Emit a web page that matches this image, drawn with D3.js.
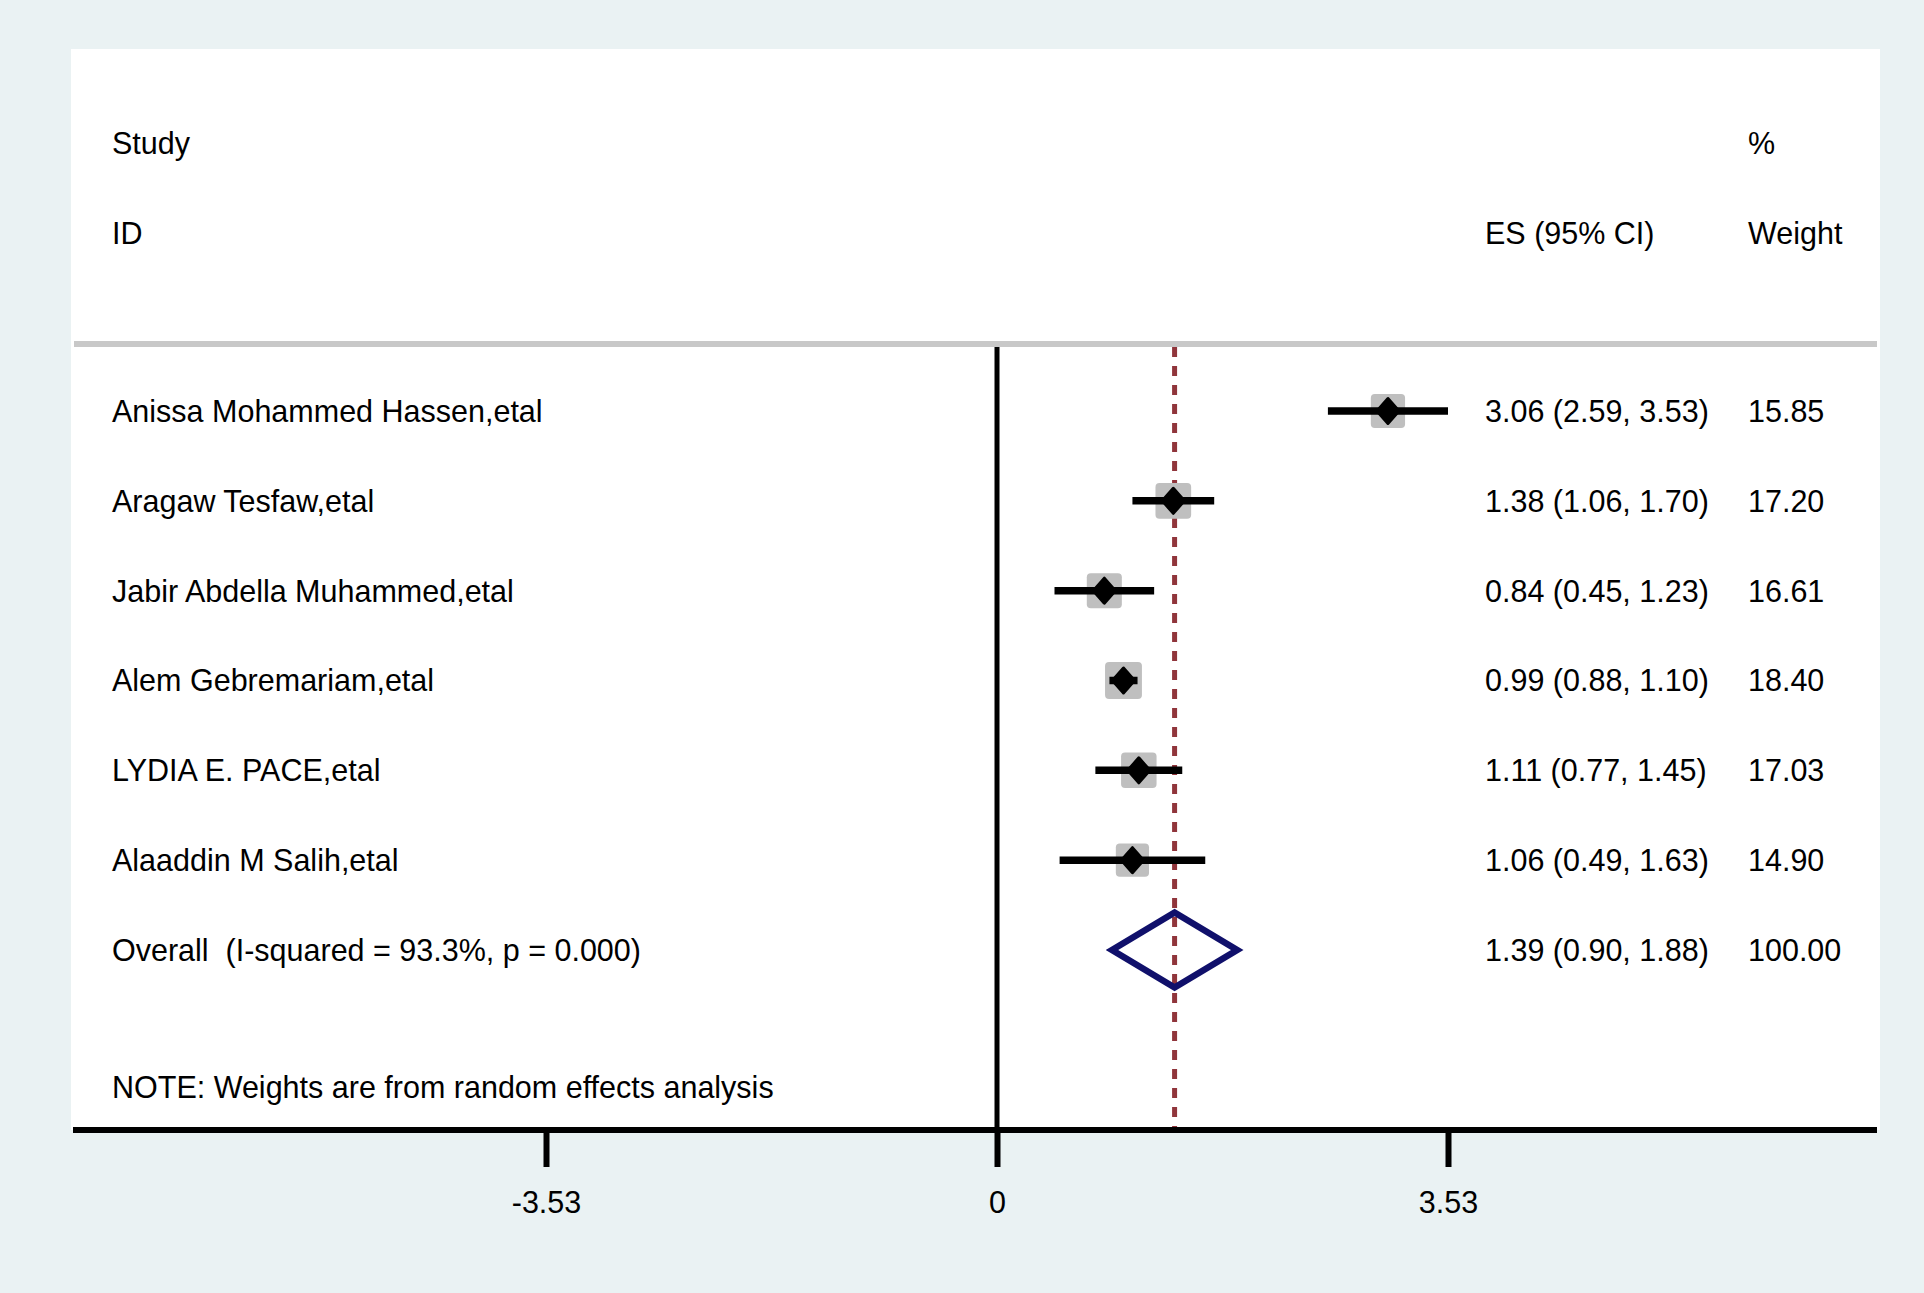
<!DOCTYPE html>
<html>
<head>
<meta charset="utf-8">
<script src="https://cdn.jsdelivr.net/npm/d3@7"></script>
<style>
  body { margin: 0; background: #eaf2f3; }
  svg { display: block; }
  text { font-family: "Liberation Sans", Arial, Helvetica, sans-serif; font-size: 30.5px; fill: #000; white-space: pre; }
</style>
</head>
<body>
<div id="container"></div>
<script>

// study data
var studies = ["Anissa Mohammed Hassen,etal", "Aragaw Tesfaw,etal", "Jabir Abdella Muhammed,etal",
               "Alem Gebremariam,etal", "LYDIA E. PACE,etal", "Alaaddin M Salih,etal"];
var es      = [3.06, 1.38, 0.84, 0.99, 1.11, 1.06];
var lo      = [2.59, 1.06, 0.45, 0.88, 0.77, 0.49];
var hi      = [3.53, 1.70, 1.23, 1.10, 1.45, 1.63];
var weights = [15.85, 17.20, 16.61, 18.40, 17.03, 14.90];

var overallLabel = "Overall  (I-squared = 93.3%, p = 0.000)";
var overall = [1.39, 0.90, 1.88];   // es, lo, hi
var overallWeight = 100.00;

var xTicks = [-3.53, 0, 3.53];
var noteText = "NOTE: Weights are from random effects analysis";


function build_rows() {
	var rows = [];
	for (var i = 0; i < studies.length; i++) {
		rows.push({name: studies[i], es: es[i], lo: lo[i], hi: hi[i], w: weights[i], idx: i});
	};
	return rows;
};


function drawit(rows) {
	var W = 1924, H = 1293;
	var plot = {left: 71, right: 1880, top: 49, bottom: 1130};

	var svg = d3.select("#container").append("svg")
		.attr("width", W)
		.attr("height", H);

	svg.append("rect").attr("width", W).attr("height", H).attr("fill", "#eaf2f3");
	svg.append("rect")
		.attr("x", plot.left).attr("y", plot.top)
		.attr("width", plot.right - plot.left).attr("height", plot.bottom - plot.top)
		.attr("fill", "#fff");

	var x = d3.scaleLinear().domain([-3.53, 3.53]).range([546, 1448]);
	// row index -> y, overall row is index 6
	var y = d3.scaleLinear().domain([0, 6]).range([411, 950]);
	// plain hyphen for negatives, like the original
	var fmt = function(v) { return d3.format(".2f")(v).replace("\u2212", "-"); };

	var colName = 112, colES = 1485, colW = 1748;
	var sepY = 344;

	// headers
	var heads = [["Study", colName, 143], ["ID", colName, 233], ["%", colW, 143],
	             ["ES (95% CI)", colES, 233], ["Weight", colW, 233]];
	svg.selectAll("text.head")
		.data(heads)
		.enter().append("text")
		.attr("class", "head")
		.attr("x", function(d) { return d[1]; })
		.attr("y", function(d) { return d[2]; })
		.attr("dy", "0.36em")
		.text(function(d) { return d[0]; });

	// separator under the header
	svg.append("line")
		.attr("x1", 74).attr("x2", 1877)
		.attr("y1", sepY).attr("y2", sepY)
		.attr("stroke", "#c8c8c8").attr("stroke-width", 6);

	// overall estimate, dashed
	svg.append("line")
		.attr("x1", x(overall[0])).attr("x2", x(overall[0]))
		.attr("y1", sepY + 3).attr("y2", plot.bottom - 2)
		.attr("stroke", "#90353b").attr("stroke-width", 5)
		.attr("stroke-dasharray", "10,9");

	// null line
	svg.append("line")
		.attr("x1", x(0)).attr("x2", x(0))
		.attr("y1", sepY + 3).attr("y2", plot.bottom)
		.attr("stroke", "#000").attr("stroke-width", 5);

	// weight boxes
	svg.selectAll("rect.box")
		.data(rows)
		.enter().append("rect")
		.attr("class", "box")
		.attr("x", function(d) { return x(d.es) - 4.3 * Math.sqrt(d.w); })
		.attr("y", function(d) { return y(d.idx) - 4.3 * Math.sqrt(d.w); })
		.attr("width", function(d) { return 8.6 * Math.sqrt(d.w); })
		.attr("height", function(d) { return 8.6 * Math.sqrt(d.w); })
		.attr("rx", 4)
		.attr("fill", "#bfbfbf");

	// confidence intervals
	svg.selectAll("line.ci")
		.data(rows)
		.enter().append("line")
		.attr("class", "ci")
		.attr("x1", function(d) { return x(d.lo); })
		.attr("x2", function(d) { return x(d.hi); })
		.attr("y1", function(d) { return y(d.idx); })
		.attr("y2", function(d) { return y(d.idx); })
		.attr("stroke", "#000").attr("stroke-width", 7.5);

	// point estimates
	svg.selectAll("path.pt")
		.data(rows)
		.enter().append("path")
		.attr("class", "pt")
		.attr("transform", function(d) { return "translate(" + x(d.es) + "," + y(d.idx) + ")"; })
		.attr("d", "M0,-12.5L11,0L0,12.5L-11,0Z")
		.attr("fill", "#000").attr("stroke", "#000")
		.attr("stroke-width", 3).attr("stroke-linejoin", "round");

	// overall diamond
	var yo = y(6);
	svg.append("path")
		.attr("d", "M" + x(overall[1]) + "," + yo +
		           "L" + x(overall[0]) + "," + (yo - 37.5) +
		           "L" + x(overall[2]) + "," + yo +
		           "L" + x(overall[0]) + "," + (yo + 37.5) + "Z")
		.attr("fill", "none").attr("stroke", "#10106b").attr("stroke-width", 6.5);

	// left and right columns
	var labels = rows.map(function(d) {
		return {name: d.name, ci: fmt(d.es) + " (" + fmt(d.lo) + ", " + fmt(d.hi) + ")", w: fmt(d.w), idx: d.idx};
	});
	labels.push({name: overallLabel,
	             ci: fmt(overall[0]) + " (" + fmt(overall[1]) + ", " + fmt(overall[2]) + ")",
	             w: fmt(overallWeight), idx: 6});

	var g = svg.selectAll("g.row")
		.data(labels)
		.enter().append("g")
		.attr("class", "row")
		.attr("transform", function(d) { return "translate(0," + y(d.idx) + ")"; });
	g.append("text").attr("x", colName).attr("dy", "0.36em").text(function(d) { return d.name; });
	g.append("text").attr("x", colES).attr("dy", "0.36em").text(function(d) { return d.ci; });
	g.append("text").attr("x", colW).attr("dy", "0.36em").text(function(d) { return d.w; });

	svg.append("text")
		.attr("x", colName).attr("y", 1087).attr("dy", "0.36em")
		.text(noteText);

	// x axis
	svg.append("line")
		.attr("x1", 73).attr("x2", 1877)
		.attr("y1", plot.bottom).attr("y2", plot.bottom)
		.attr("stroke", "#000").attr("stroke-width", 6);

	var axis = d3.axisBottom(x)
		.tickValues(xTicks)
		.tickSize(37)
		.tickPadding(24)
		.tickFormat(function(d) { return d === 0 ? "0" : fmt(d); });

	var ax = svg.append("g")
		.attr("transform", "translate(0," + plot.bottom + ")")
		.call(axis);
	ax.select(".domain").remove();
	ax.selectAll(".tick line").attr("stroke", "#000").attr("stroke-width", 6);
	ax.selectAll(".tick text")
		.attr("font-family", null).attr("font-size", null)
		.style("font-size", "30.5px").attr("fill", "#000");
};


function main() {
	var rows = build_rows();
	drawit(rows);
};


main()

</script>
</body>
</html>
